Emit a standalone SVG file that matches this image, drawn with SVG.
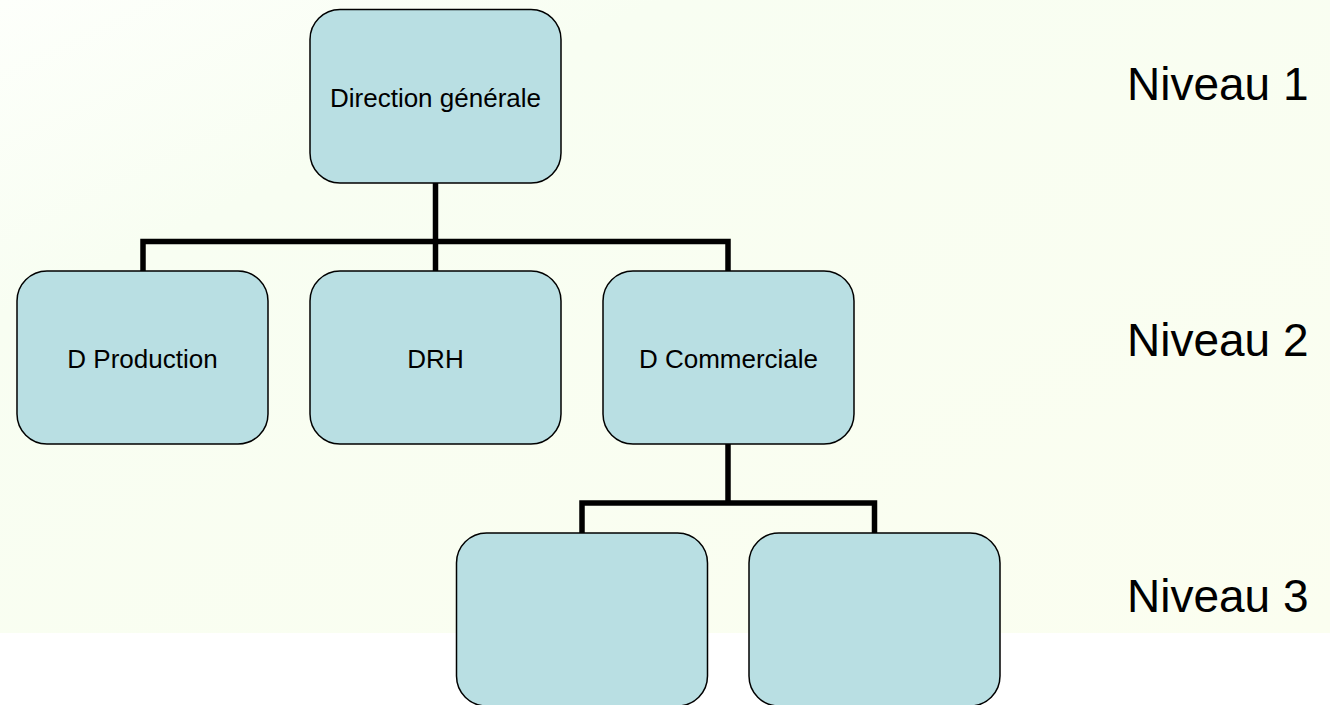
<svg xmlns="http://www.w3.org/2000/svg" width="1330" height="705" viewBox="0 0 1330 705">
<defs>
<linearGradient id="bg" x1="0" y1="0" x2="1" y2="1">
<stop offset="0" stop-color="#fdfffb"/>
<stop offset="0.25" stop-color="#f8fef2"/>
<stop offset="1" stop-color="#fbfef0"/>
</linearGradient>
<style>
.node rect{fill:#b9dfe3;stroke:#000;stroke-width:1.5}
.node text{font-family:"Liberation Sans",Arial,sans-serif;font-size:26px;fill:#000;text-anchor:middle}
.lvl{font-family:"Liberation Sans",Arial,sans-serif;font-size:46px;fill:#000}
#connectors path{fill:none;stroke:#000;stroke-width:5.5;stroke-linejoin:miter;stroke-linecap:butt}
</style>
</defs>
<rect x="0" y="0" width="1330" height="705" fill="#fff"/>
<rect x="0" y="0" width="1330" height="633" fill="url(#bg)"/>
<g id="connectors">
<path d="M435.5 183 V271"/>
<path d="M143 271 V241.5 H728 V271"/>
<path d="M728 444 V503"/>
<path d="M582 533 V503 H874.5 V533"/>
</g>
<g id="n-dg" class="node"><rect x="310" y="9.5" width="251" height="173.5" rx="30"/><text x="435.5" y="107">Direction générale</text></g>
<g id="n-prod" class="node"><rect x="17" y="271" width="251" height="173" rx="30"/><text x="142.5" y="368">D Production</text></g>
<g id="n-drh" class="node"><rect x="310" y="271" width="251" height="173" rx="30"/><text x="435.5" y="368">DRH</text></g>
<g id="n-com" class="node"><rect x="603" y="271" width="251" height="173" rx="30"/><text x="728.5" y="368">D Commerciale</text></g>
<g id="n-c1" class="node"><rect x="456.5" y="533" width="251" height="173" rx="30"/></g>
<g id="n-c2" class="node"><rect x="749" y="533" width="251" height="173" rx="30"/></g>
<g id="levels">
<text class="lvl" x="1127" y="100">Niveau 1</text>
<text class="lvl" x="1127" y="356">Niveau 2</text>
<text class="lvl" x="1127" y="612">Niveau 3</text>
</g>
</svg>
